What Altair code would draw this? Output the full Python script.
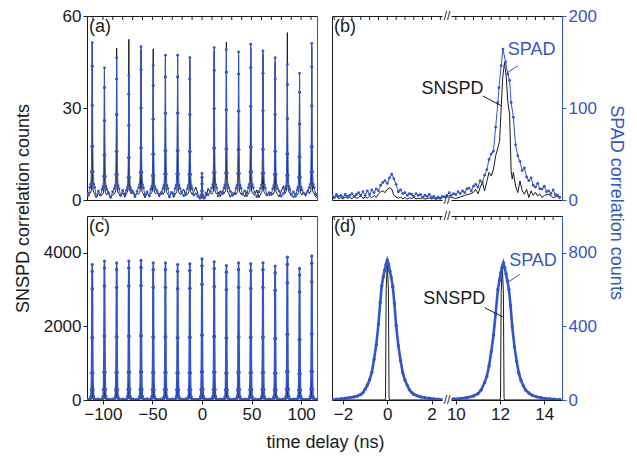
import altair as alt
import pandas as pd

BLUE = "#3356c6"
BLACK = "#1a1a1a"
FONT = "Liberation Sans"

# ---------------- panels (a) and (c): full delay range ----------------
peak_t = [-110.7, -98.4, -86.1, -73.8, -61.5, -49.2, -36.9, -24.6, -12.3, 0.0,
          12.3, 24.6, 36.9, 49.2, 61.5, 73.8, 86.1, 98.4, 110.7]
edge_left = [-116.0, -114.5]
edge_right = [114.5, 116.0]
bg_off = [4.0, 6.15, 8.3]

a_spad_h = [51.3, 43.1, 46.4, 40.6, 50.0, 43.9, 47.2, 47.2, 46.4, 8.7,
            49.7, 49.0, 48.3, 50.8, 48.6, 46.4, 44.2, 41.3, 51.1]
a_snspd_h = [51.0, 42.0, 49.5, 52.4, 49.0, 49.3, 46.0, 46.0, 45.5, 7.0,
             48.5, 51.5, 47.0, 49.5, 47.5, 45.0, 54.6, 40.5, 50.0]
a_off = [-2.4, -1.5, -0.9, -0.55, -0.3, -0.12, 0.0, 0.12, 0.3, 0.55, 0.9, 1.5, 2.4]
a_spad_shape = [0.08, 0.1, 0.18, 0.34, 0.6, 0.85, 1.0, 0.85, 0.6, 0.34, 0.18, 0.1, 0.08]
a_snspd_shape = [0.04, 0.05, 0.06, 0.1, 0.2, 0.6, 1.0, 0.55, 0.2, 0.1, 0.06, 0.05, 0.04]
a_spad_bg = [2.2, 1.5,
             1.2, 2.9, 1.6, 2.2, 0.9, 2.7, 1.5, 3.1, 1.9, 2.4, 1.1, 2.8,
             1.7, 2.6, 1.3, 2.9, 1.8, 2.1, 1.0, 2.5, 1.9, 2.7, 1.4, 2.2,
             1.6, 2.0, 1.2, 2.3, 1.7, 2.9, 1.3, 2.6, 2.0, 2.8, 1.5, 2.2,
             1.9, 3.0, 1.4, 2.5, 1.1, 2.7, 1.6, 2.4, 1.8, 2.9, 1.3, 2.1,
             1.7, 2.6, 1.2, 2.3, 1.9, 2.8,
             2.0, 1.6]
a_snspd_bg = [1.0, 2.6,
              0.8, 2.1, 1.4, 2.9, 0.6, 1.8, 1.2, 2.4, 0.9, 3.2, 1.5, 2.0,
              0.7, 2.2, 1.6, 2.5, 1.0, 3.0, 1.3, 2.8, 0.8, 2.0, 3.6, 1.4,
              2.7, 4.2, 1.9, 1.1, 3.8, 2.3, 2.6, 1.2, 3.1, 0.9, 2.4, 1.7,
              2.2, 1.0, 2.8, 1.5, 3.3, 0.8, 2.1, 1.4, 2.6, 1.0, 2.9, 4.6,
              1.8, 0.7, 2.3, 2.5, 1.2, 3.4,
              1.1, 0.6]

c_spad_h = [3683, 3774, 3729, 3774, 3792, 3729, 3729, 3683, 3701, 3837,
            3756, 3656, 3729, 3701, 3729, 3638, 3882, 3575, 3910]
c_snspd_h = [3500, 3580, 3550, 3600, 3590, 3540, 3550, 3500, 3520, 3660,
             3580, 3480, 3550, 3520, 3550, 3460, 3700, 3400, 3720]
c_off = [-2.4, -1.5, -1.0, -0.7, -0.45, -0.25, -0.1, 0.0, 0.1, 0.25, 0.45, 0.7, 1.0, 1.5, 2.4]
c_spad_shape = [0.005, 0.024, 0.076, 0.2, 0.46, 0.82, 0.95, 1.0, 0.95, 0.82, 0.46, 0.2, 0.076, 0.024, 0.005]
c_snspd_shape = [0.002, 0.003, 0.004, 0.006, 0.01, 0.05, 0.6, 1.0, 0.6, 0.05, 0.01, 0.006, 0.004, 0.003, 0.002]
c_spad_bg = [10, 18,
             12, 25, 8, 20, 14, 28, 9, 22, 16, 26, 11, 19, 15, 30, 10, 21,
             13, 24, 8, 27, 17, 23, 12, 29, 14, 20, 9, 25, 16, 22, 11, 28,
             18, 19, 10, 26, 13, 24, 15, 28, 9, 21, 17, 23, 12, 22, 14, 27,
             10, 25, 16, 20, 12, 18,
             15, 9]
c_snspd_bg = [6, 9,
              4, 10, 7, 8, 5, 11, 3, 9, 6, 10, 4, 8, 7, 12, 5, 9,
              6, 10, 4, 11, 7, 8, 5, 12, 6, 9, 3, 10, 7, 8, 5, 11,
              6, 9, 4, 10, 7, 12, 5, 11, 3, 8, 6, 9, 4, 8, 5, 11,
              4, 10, 7, 9, 6, 8,
              5, 3]

# ---------------- panel (b): zoom, broken axis ----------------
b_spad_t = [-2.5, -2.4, -2.3, -2.2, -2.1, -2.0, -1.9, -1.8, -1.7, -1.6, -1.5, -1.4, -1.3,
            -1.2, -1.1, -1.0, -0.9, -0.8, -0.7, -0.6, -0.5, -0.4, -0.3, -0.2, -0.1, 0.0,
            0.1, 0.2, 0.3, 0.4, 0.5, 0.6, 0.7, 0.8, 0.9, 1.0, 1.1, 1.2, 1.3, 1.4, 1.5,
            1.6, 1.7, 1.8, 1.9, 2.0, 2.1, 2.2, 2.3, 2.4, 2.5, 2.6, 2.7,
            9.6, 9.7, 9.8, 9.9, 10.0, 10.1, 10.2, 10.3, 10.4, 10.5, 10.6, 10.7, 10.8,
            10.9, 11.0, 11.1, 11.2, 11.3, 11.4, 11.5, 11.6, 11.7, 11.8, 11.9, 11.95,
            12.05, 12.13, 12.25, 12.35, 12.43, 12.5, 12.6, 12.7, 12.8, 12.9, 13.0, 13.1,
            13.2, 13.3, 13.4, 13.5, 13.6, 13.7, 13.8, 13.9, 14.0, 14.1, 14.2, 14.3,
            14.4, 14.5, 14.6, 14.7]
b_spad_v = [5, 3, 6, 4, 5, 3, 6, 4, 5, 7, 4, 6, 8,
            5, 9, 5, 10, 6, 11, 8, 12, 10, 16, 19, 21, 18,
            24, 28, 23, 17, 9, 11, 7, 8, 5, 7, 6, 4, 7, 5, 6,
            3, 5, 4, 6, 3, 4, 2, 3, 2, 4, 3, 5,
            4, 8, 5, 7, 6, 9, 7, 10, 8, 12, 13, 10, 15,
            17, 14, 21, 19, 27, 33, 44, 50, 53, 79, 106, 122,
            146, 164, 150, 137, 130, 106, 90, 60, 48, 42, 32, 35,
            25, 21, 24, 16, 14, 18, 12, 12, 15, 9, 10, 7,
            11, 6, 5, 3]
b_snspd_t = [-2.5, -2.4, -2.3, -2.2, -2.1, -2.0, -1.9, -1.8, -1.7, -1.6, -1.5, -1.4, -1.3,
             -1.2, -1.1, -1.0, -0.9, -0.8, -0.7, -0.6, -0.5, -0.4, -0.3, -0.2, -0.1, 0.0,
             0.1, 0.2, 0.3, 0.4, 0.5, 0.6, 0.7, 0.8, 0.9, 1.0, 1.1, 1.2, 1.3, 1.4, 1.5,
             1.6, 1.7, 1.8, 1.9, 2.0, 2.1, 2.2, 2.3, 2.4, 2.5, 2.6, 2.7,
             9.6, 9.8, 10.0, 10.2, 10.4, 10.6, 10.8, 10.9, 11.0, 11.1, 11.2, 11.3, 11.4,
             11.5, 11.6, 11.7, 11.8, 11.9, 11.98, 12.05, 12.12, 12.2, 12.28, 12.35, 12.43,
             12.5, 12.55, 12.6, 12.7, 12.8, 12.9, 13.0, 13.1, 13.2, 13.3, 13.4, 13.5,
             13.6, 13.7, 13.8, 13.9, 14.0, 14.2, 14.4, 14.6, 14.7]
b_snspd_v = [1.0, 0.5, 1.2, 0.4, 0.8, 0.3, 1.0, 0.5, 0.9, 0.4, 1.1, 0.6, 0.8,
             1.4, 0.5, 1.0, 0.6, 1.3, 0.7, 1.5, 0.8, 2.0, 2.6, 3.0, 2.4, 3.5,
             4.0, 3.6, 1.5, 1.0, 0.6, 0.9, 0.4, 0.8, 0.3, 0.7, 0.5, 0.9, 0.3, 0.6, 0.4,
             0.8, 0.3, 0.5, 0.7, 0.3, 0.6, 0.2, 0.5, 0.3, 0.6, 0.2, 0.4,
             0.5, 0.8, 0.5, 1.0, 1.5, 1.9, 2.5, 3.5, 2.0, 4.0, 5.7, 3.0, 6.0,
             9.0, 7.9, 10.0, 14.4, 17.0, 19.3, 30.0, 40.0, 44.9, 40.0, 32.0, 28.0,
             9.5, 6.8, 9.0, 4.6, 2.4, 6.2, 3.0, 1.9, 3.5, 0.8, 3.0, 1.5,
             2.5, 1.3, 2.0, 0.8, 1.5, 1.9, 0.8, 1.2, 0.5]

# ---------------- panel (d): zoom, broken axis ----------------
d_spad_t = [-2.5, -2.3, -2.1, -1.9, -1.7, -1.5, -1.35, -1.2, -1.1, -1.0, -0.9, -0.8,
            -0.7, -0.6, -0.5, -0.4, -0.32, -0.25, -0.18, -0.12, -0.06, 0.0, 0.06, 0.12,
            0.18, 0.25, 0.32, 0.4, 0.5, 0.6, 0.7, 0.8, 0.9, 1.0, 1.1, 1.2, 1.35, 1.5,
            1.7, 1.9, 2.1, 2.3, 2.5, 2.7,
            9.6, 9.9, 10.2, 10.5, 10.8, 11.0, 11.15, 11.3, 11.4, 11.5, 11.6, 11.7,
            11.8, 11.9, 11.97, 12.03, 12.09, 12.15, 12.21, 12.27, 12.33, 12.4, 12.47,
            12.55, 12.65, 12.75, 12.85, 12.95, 13.05, 13.15, 13.3, 13.45, 13.65, 13.85,
            14.05, 14.25, 14.45, 14.7]
d_spad_v = [3, 4, 6, 9, 13, 17, 22, 30, 40, 58, 81, 110,
            150, 220, 300, 410, 530, 620, 670, 705, 735, 760, 738, 700,
            665, 615, 525, 405, 295, 215, 148, 108, 80, 56, 41, 31, 23, 17,
            12, 9, 6, 4, 3, 2,
            3, 5, 8, 13, 22, 34, 56, 95, 128, 185, 262, 350,
            470, 600, 650, 690, 720, 745, 718, 685, 648, 600, 515,
            400, 290, 210, 145, 105, 78, 55, 38, 26, 17, 12,
            8, 6, 4, 3]
d_snspd_t = [-2.5, -0.1, -0.08, -0.05, 0.0, 0.05, 0.08, 0.1, 2.7,
             9.6, 12.0, 12.02, 12.05, 12.1, 12.15, 12.18, 12.2, 14.7]
d_snspd_v = [2, 2, 60, 3000, 3760, 3000, 60, 2, 2,
             2, 2, 60, 2900, 3700, 2900, 60, 2, 2]

# annotations (x in broken-axis plot units, y in SPAD units)
b_text = [("SPAD", 6.53, 163, BLUE), ("SNSPD", 2.95, 120.5, BLACK)]
b_lead = [(5.91, 146, 5.46, 139, BLUE), (4.32, 113, 5.15, 102.4, BLACK)]
d_text = [("SPAD", 6.59, 755, BLUE), ("SNSPD", 3.03, 547, BLACK)]
d_lead = [(5.99, 683, 5.43, 638, BLUE), (4.40, 502, 5.23, 451, BLACK)]

BREAK_GAP = 6.9      # 2.7 ns ... 9.6 ns share one plot position
BREAK_AT = 2.7


def brk(t):
    return t if t < 6 else t - BREAK_GAP


def full_series(heights, shape, offsets, bg):
    ts = list(edge_left)
    vs = [bg[0], bg[1]]
    k = 2
    for i, c in enumerate(peak_t):
        for o, s in zip(offsets, shape):
            ts.append(c + o)
            vs.append(heights[i] * s)
        if i < len(peak_t) - 1:
            for o in bg_off:
                ts.append(c + o)
                vs.append(bg[k])
                k += 1
    ts += edge_right
    vs += [bg[k], bg[k + 1]]
    return pd.DataFrame({"t": ts, "v": vs})


def zoom_series(ts, vs):
    return pd.DataFrame({"t": [brk(t) for t in ts], "v": vs})


W, H = 230, 184


def panel(snspd, spad, xdom, yl, yr, x_bottom, y_left, y_right, label, top_vals,
          texts=(), leads=(), broken=False, spad_w=1.0, dot=8):
    xs = alt.Scale(domain=xdom, nice=False, zero=False)

    def ysc(d):
        return alt.Scale(domain=d, nice=False, zero=False)

    l1 = alt.Chart(snspd).mark_line(color=BLACK, strokeWidth=1, clip=True).encode(
        x=alt.X("t:Q", scale=xs, axis=x_bottom),
        y=alt.Y("v:Q", scale=ysc(yl), axis=y_left),
    )
    l2 = alt.Chart(spad).mark_line(
        color=BLUE, strokeWidth=spad_w, clip=True,
        point=alt.OverlayMarkDef(color=BLUE, filled=True, size=dot, opacity=1),
    ).encode(
        x=alt.X("t:Q", scale=xs, axis=None),
        y=alt.Y("v:Q", scale=ysc(yr), axis=y_right),
    )
    layers = [l1, l2]

    # short inward ticks hanging from the top edge
    tdf_top = pd.DataFrame({"x": top_vals})
    layers.append(alt.Chart(tdf_top).mark_rule(color=BLACK, strokeWidth=1).encode(
        x=alt.X("x:Q", scale=xs, axis=None),
        y=alt.value(0), y2=alt.value(4)))

    if broken:
        bdf = pd.DataFrame({"x": [BREAK_AT - 0.2, BREAK_AT - 0.2],
                            "x2": [BREAK_AT + 0.2, BREAK_AT + 0.2],
                            "y": [yr[0], yr[1]]})
        layers.append(alt.Chart(bdf).mark_rule(color="white", strokeWidth=4).encode(
            x=alt.X("x:Q", scale=xs, axis=None), x2="x2:Q",
            y=alt.Y("y:Q", scale=ysc(yr), axis=None)))
        sdf = pd.DataFrame({"x": [BREAK_AT, BREAK_AT], "y": [yr[0], yr[1]], "s": ["//", "//"]})
        layers.append(alt.Chart(sdf).mark_text(font=FONT, fontSize=12, baseline="middle",
                                               align="center", color=BLACK).encode(
            x=alt.X("x:Q", scale=xs, axis=None),
            y=alt.Y("y:Q", scale=ysc(yr), axis=None), text="s:N"))

    if leads:
        ldf = pd.DataFrame([{"x": a, "y": b, "x2": c, "y2": d, "c": col}
                            for a, b, c, d, col in leads])
        layers.append(alt.Chart(ldf).mark_rule(strokeWidth=1).encode(
            x=alt.X("x:Q", scale=xs, axis=None), x2="x2:Q",
            y=alt.Y("y:Q", scale=ysc(yr), axis=None), y2="y2:Q",
            color=alt.Color("c:N", scale=None)))
    if texts:
        tdf = pd.DataFrame([{"s": s, "x": x, "y": y, "c": col} for s, x, y, col in texts])
        layers.append(alt.Chart(tdf).mark_text(font=FONT, fontSize=18, align="center",
                                               baseline="middle").encode(
            x=alt.X("x:Q", scale=xs, axis=None),
            y=alt.Y("y:Q", scale=ysc(yr), axis=None),
            text="s:N", color=alt.Color("c:N", scale=None)))

    pdf = pd.DataFrame({"x": [xdom[0]], "y": [yr[1]], "s": [label]})
    layers.append(alt.Chart(pdf).mark_text(font=FONT, fontSize=18, align="left",
                                           baseline="top", dx=2, dy=2, color=BLACK).encode(
        x=alt.X("x:Q", scale=xs, axis=None),
        y=alt.Y("y:Q", scale=ysc(yr), axis=None), text="s:N"))

    return (alt.layer(*layers)
            .resolve_scale(y="independent")
            .resolve_axis(x="independent", y="independent")
            .properties(width=W, height=H))


right_plain = alt.Axis(orient="right", labels=False, ticks=False, domain=True,
                       domainColor=BLUE, title=None, grid=False)

full_dom = [-116, 116]
zoom_dom = [-2.5, 7.9]
full_top = list(range(-110, 111, 10))
zoom_top = [round(-2.4 + 0.4 * i, 2) for i in range(13)] + \
           [round(10.0 + 0.4 * i - BREAK_GAP, 2) for i in range(12)]

pa = panel(
    full_series(a_snspd_h, a_snspd_shape, a_off, a_snspd_bg),
    full_series(a_spad_h, a_spad_shape, a_off, a_spad_bg),
    full_dom, [0, 60], [0, 60],
    None,
    alt.Axis(orient="left", values=[0, 30, 60], format="d", tickSize=4, labelPadding=2,
             domain=False, tickColor=BLACK, title="SNSPD correlation counts",
             titleX=-64, titleY=192, titleBaseline="middle", titleAngle=270, grid=False),
    right_plain, "(a)", full_top)

pb = panel(
    zoom_series(b_snspd_t, b_snspd_v), zoom_series(b_spad_t, b_spad_v),
    zoom_dom, [0, 60], [0, 200],
    None, None,
    alt.Axis(orient="right", values=[0, 100, 200], format="d", tickSize=4, labelPadding=2,
             domainColor=BLUE, tickColor=BLUE, labelColor=BLUE,
             title="SPAD correlation counts", titleColor=BLUE, titleX=53, titleY=186,
             titleBaseline="middle", titleAngle=90, grid=False),
    "(b)", zoom_top, b_text, b_lead, broken=True)

pc = panel(
    full_series(c_snspd_h, c_snspd_shape, c_off, c_snspd_bg),
    full_series(c_spad_h, c_spad_shape, c_off, c_spad_bg),
    full_dom, [0, 5000], [0, 5000],
    alt.Axis(orient="bottom", values=[-100, -50, 0, 50, 100], format="d", tickSize=4,
             labelPadding=2, domain=False, tickColor=BLACK, title="time delay (ns)",
             titleX=238, titleY=42, titleBaseline="middle", grid=False),
    alt.Axis(orient="left", values=[0, 2000, 4000], format="d", tickSize=4, labelPadding=2,
             domain=False, tickColor=BLACK, title=None, grid=False),
    right_plain, "(c)", [-100, -50, 0, 50, 100], spad_w=1.6, dot=10)

pd_ = panel(
    zoom_series(d_snspd_t, d_snspd_v), zoom_series(d_spad_t, d_spad_v),
    zoom_dom, [0, 5000], [0, 1000],
    alt.Axis(orient="bottom", values=[-2, 0, 2, 3.1, 5.1, 7.1], tickSize=4, labelPadding=2,
             domain=False, tickColor=BLACK, title=None, grid=False,
             labelExpr="datum.value > 2.8 ? format(datum.value + 6.9, 'd') : format(datum.value, 'd')"),
    None,
    alt.Axis(orient="right", values=[0, 400, 800], format="d", tickSize=4, labelPadding=2,
             domainColor=BLUE, tickColor=BLUE, labelColor=BLUE, title=None, grid=False),
    "(d)", zoom_top, d_text, d_lead, broken=True, spad_w=2.6, dot=12)

chart = alt.concat(pa, pb, pc, pd_, columns=2, spacing={"row": 16, "column": 15},
                   bounds="flush").properties(
    padding={"left": 5, "top": -2, "right": 0, "bottom": 0}
).configure_view(stroke=BLACK, strokeWidth=1).configure_axis(
    labelFont=FONT, labelFontSize=17, titleFont=FONT, titleFontSize=18,
    titleFontWeight="normal", labelColor=BLACK, titleColor=BLACK, grid=False
)

chart.save("out.html", embed_options={"renderer": "svg", "actions": False})
